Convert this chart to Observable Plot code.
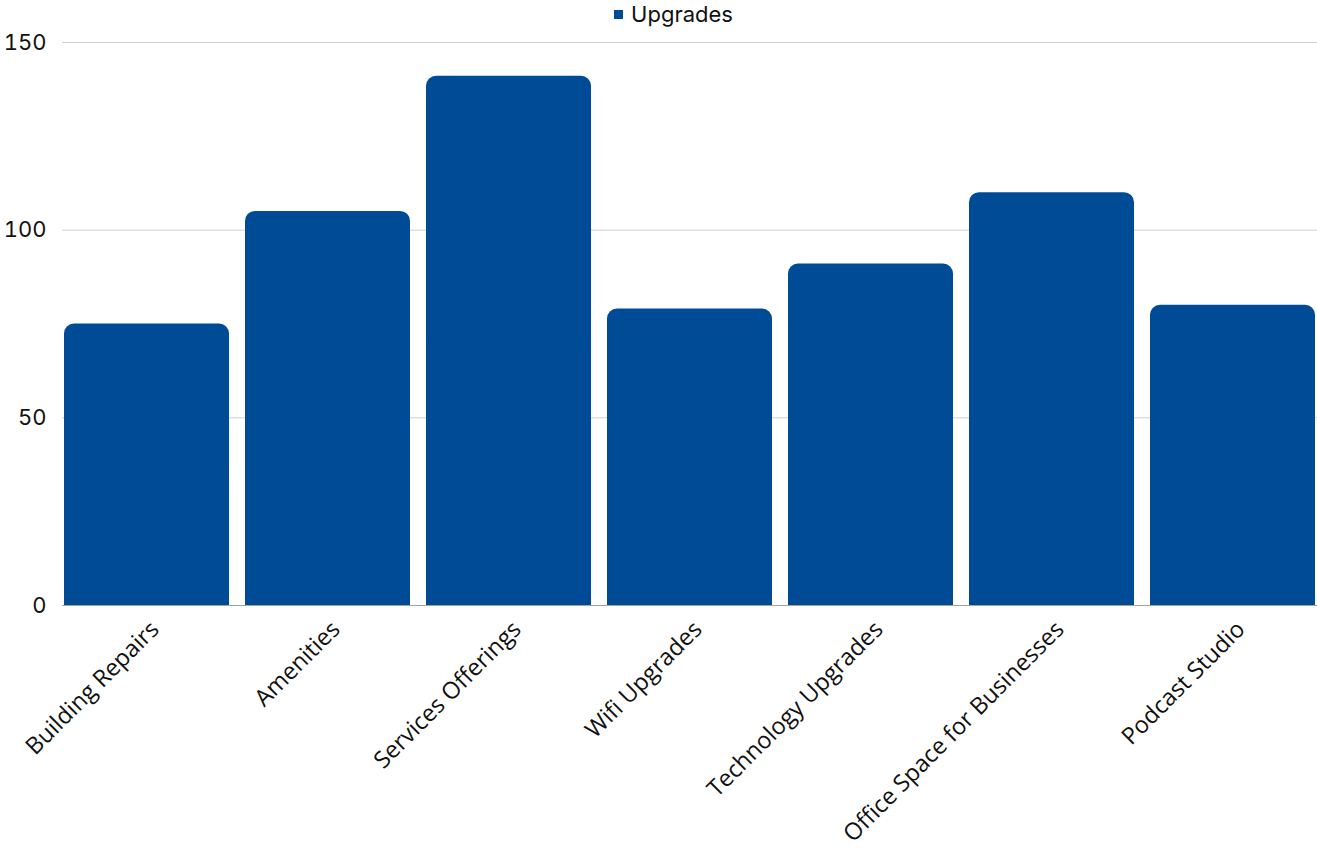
<!DOCTYPE html>
<html>
<head>
<meta charset="utf-8">
<script src="https://cdn.jsdelivr.net/npm/d3@7"></script>
<script src="https://cdn.jsdelivr.net/npm/@observablehq/plot@0.6"></script>
<style>
  html, body { margin: 0; padding: 0; background: #fff; }
  #legend { height: 28px; display: flex; justify-content: center; align-items: center; font-family: "Inter", "Open Sans", sans-serif; font-size: 22px; color: #111; padding-left: 30px; box-sizing: border-box; }
  #legend .sw { width: 9px; height: 9px; background: #004b96; margin-right: 8px; display: inline-block; }
  #chart svg { display: block; }
</style>
</head>
<body>
<div id="legend"><span class="sw"></span><span>Upgrades</span></div>
<div id="chart"></div>
<script>
const categories = ["Building Repairs", "Amenities", "Services Offerings", "Wifi Upgrades", "Technology Upgrades", "Office Space for Businesses", "Podcast Studio"];
const values = [75, 105, 141, 79, 91, 110, 80];
const yTicks = [0, 50, 100, 150];

const data = categories.map((c, i) => ({category: c, value: values[i]}));
const color = "#004b96";

const chart = Plot.plot({
  width: 1317,
  height: 819,
  marginTop: 14,
  marginLeft: 62,
  marginRight: 0,
  marginBottom: 242,
  style: {fontFamily: "Inter, 'Open Sans', sans-serif", fontSize: "20px", color: "#111"},
  x: {domain: categories, paddingInner: 0.088, paddingOuter: 0, label: null},
  y: {domain: [0, 150], ticks: yTicks, label: null},
  marks: [
    Plot.gridY(yTicks, {stroke: "#d0d0d0", strokeOpacity: 1}),
    Plot.ruleY([0], {stroke: "#a0a0a0"}),
    Plot.barY(data, {x: "category", y: "value", fill: color, rx: 10}),
    Plot.barY(data, {x: "category", y: d => d.value / 2, fill: color}),
    Plot.axisY({ticks: yTicks, tickSize: 0, tickPadding: 16, fontSize: 22, label: null}),
    Plot.axisX({tickSize: 0, tickRotate: -45, tickPadding: 20, dx: 8, fontSize: 23.5, fontFamily: "'Open Sans', sans-serif", label: null})
  ]
});
document.getElementById("chart").appendChild(chart);
</script>
</body>
</html>
